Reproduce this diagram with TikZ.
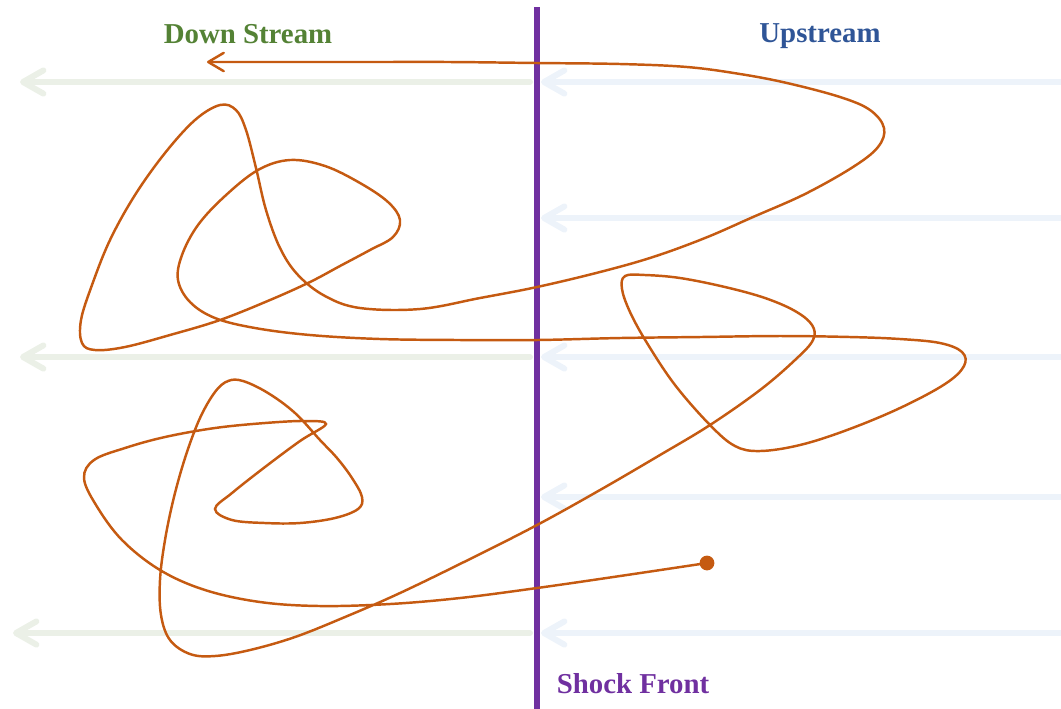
\documentclass[tikz,border=0pt]{standalone}
\usepackage{fontspec}
\setmainfont{Liberation Serif}
\usetikzlibrary{arrows.meta}
\definecolor{shockpurple}{HTML}{7030A0}
\definecolor{downgreen}{HTML}{548235}
\definecolor{upblue}{HTML}{2F5597}
\definecolor{pathorange}{HTML}{C55A11}
\definecolor{downflow}{HTML}{EBF0E7}
\definecolor{upflow}{HTML}{EDF3FA}
\tikzset{
  flow/.style={line width=1.7pt, line cap=round, -{Straight Barb[length=5.8pt,width=6.6pt,round]}},
  label text/.style={font=\fontsize{8.2}{10}\selectfont\bfseries, inner sep=0pt},
}

\begin{document}
\begin{tikzpicture}[x=0.01cm,y=-0.01cm]
\useasboundingbox (0,0) rectangle (1061,708);
% flow lines, both sides
\foreach \y/\e in {82/20,357/20,633/13} \draw[flow,downflow] (530,\y) -- (\e,\y);
\foreach \y in {82,218,357,497,633} \draw[flow,upflow] (1070,\y) -- (541,\y);
% shock
\draw[shockpurple,line width=1.9pt] (537,7) -- (537,712);
\node[label text,downgreen] (down) at (248,34) {Down Stream};
\node[label text,upblue] (up) at (820,36) {Upstream};
\node[label text,shockpurple] (shock) at (633,684) {Shock Front};
% particle
\coordinate (start) at (707,563);
\coordinate (finish) at (207,62);
\draw[pathorange,line width=0.7pt,-{Straight Barb[length=4.4pt,width=5.2pt,round]}]
  plot[smooth,tension=0.6] coordinates {
  (start) (620,576) (537,588) (460,598) (390,604) (320,606) (260,602) (205,590) (160,570) (122,540)
  (96,505) (84,478) (94,460) (125,448) (165,437) (215,428) (265,423) (305,421) (326,424)
  (300,441) (265,467) (232,493) (215,509) (232,520) (265,523) (300,523) (335,518) (358,509) (362,497)
  (352,478) (337,458) (320,440) (295,413) (268,393) (243,381) (228,381) (215,392) (200,418) (186,455)
  (174,497) (165,540) (160,580) (161,615) (170,640) (190,654) (215,656) (250,650) (295,637) (345,617)
  (400,593) (470,559) (537,525) (600,490) (660,455) (710,425) (760,390) (795,360) (813,340) (812,325)
  (795,311) (765,298) (725,287) (680,278) (645,275) (625,276) (622,289) (630,312) (647,343) (675,385)
  (710,425) (735,446) (760,451) (800,445) (847,430) (900,408) (945,384) (964,366) (962,352) (940,343)
  (900,339) (850,337) (780,336) (700,337) (620,338) (537,340) (460,340) (380,339) (310,335) (255,328)
  (215,318) (190,302) (178,280) (182,255) (198,225) (225,196) (258,170) (290,160) (325,166) (360,183)
  (388,202) (400,220) (393,237) (370,250) (340,266) (310,282) (270,300) (220,320) (170,335) (125,347)
  (95,350) (82,343) (81,320) (92,285) (110,240) (135,195) (165,153) (195,120) (220,105) (236,110)
  (246,130) (256,168) (266,210) (280,248) (298,275) (325,296) (360,308) (420,309) (480,298) (537,287)
  (600,272) (653,257) (705,238) (753,217) (805,194) (853,167) (878,147) (884,128) (870,110) (840,97)
  (787,83) (740,74) (687,67) (620,64) (537,63) (450,62) (370,62) (290,62) (finish)};
\fill[pathorange] (start) circle (2.1pt);
\end{tikzpicture}
\end{document}
